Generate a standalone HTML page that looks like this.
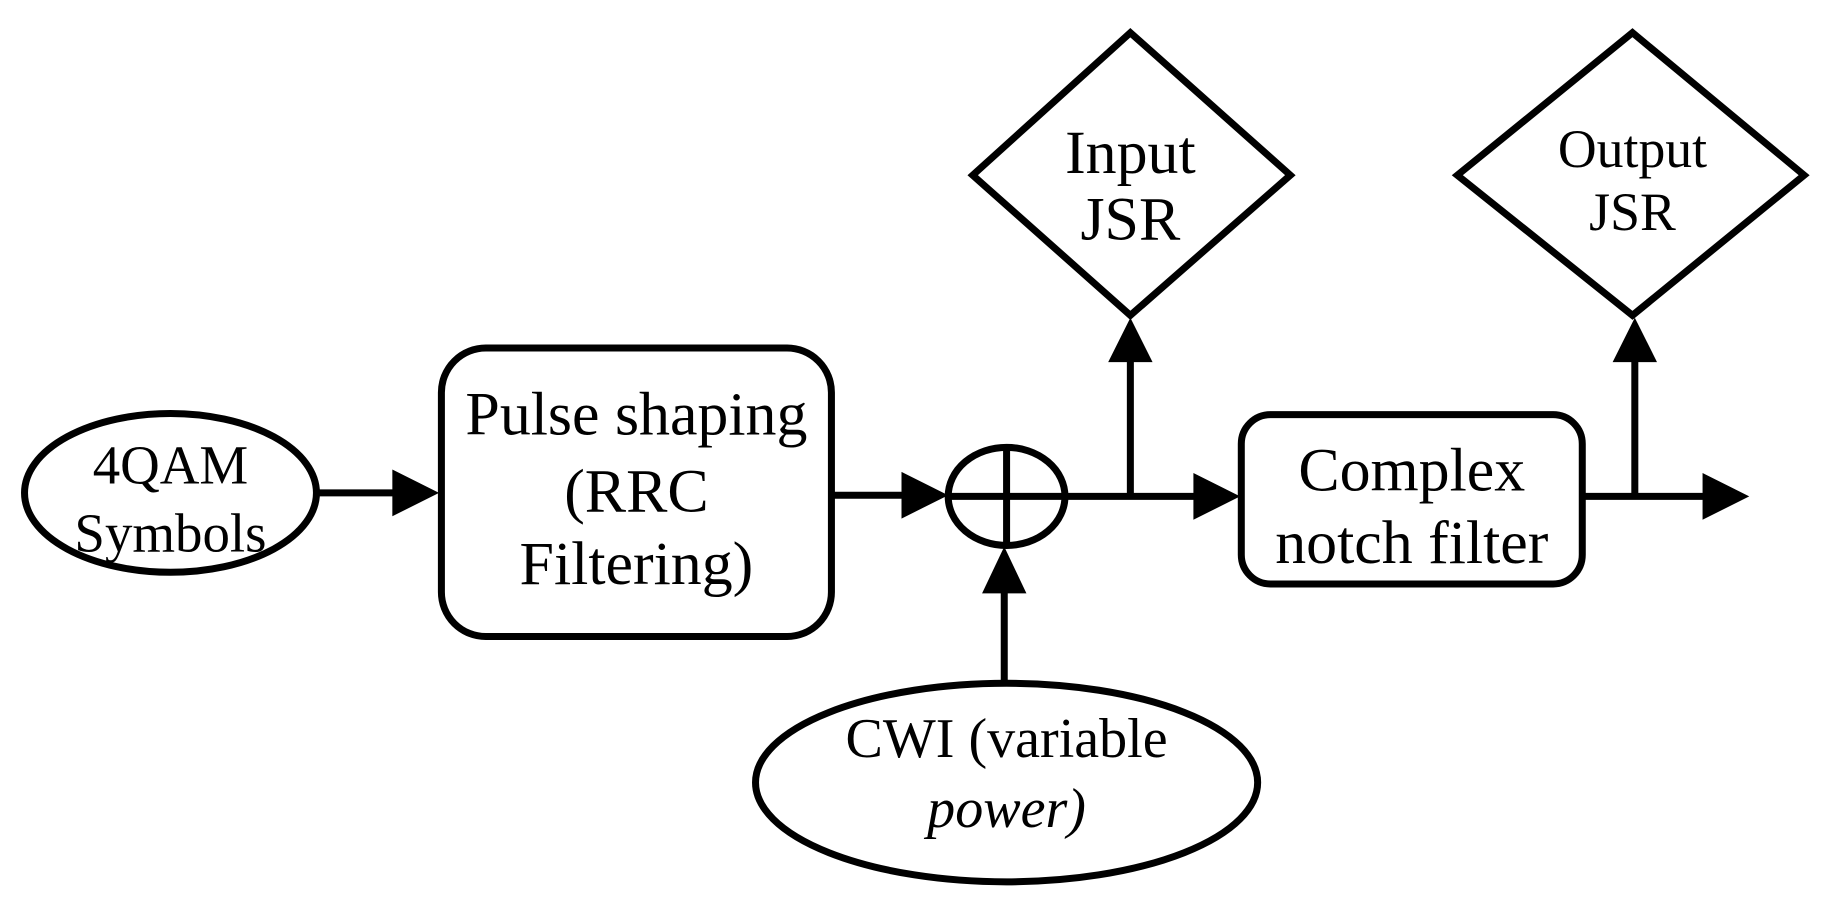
<!DOCTYPE html>
<html><head><style>html,body{margin:0;padding:0;background:#fff}svg{display:block}</style></head>
<body>
<svg width="1831" height="897" viewBox="0 0 1568 768" preserveAspectRatio="none" xmlns="http://www.w3.org/2000/svg" font-family="Liberation Serif, serif" fill="none" stroke="#000">
<g stroke-width="6">
<ellipse cx="146" cy="422" rx="125" ry="68"/>
<rect x="378" y="298" width="334" height="247" rx="38"/>
<ellipse cx="862" cy="425" rx="50" ry="42"/>
<line x1="862" y1="383" x2="862" y2="467"/>
<line x1="812" y1="425" x2="912" y2="425"/>
<polygon points="968,28 1105,150 968,270 833,150"/>
<polygon points="1398,28 1545,150 1398,270 1248,150"/>
<rect x="1063" y="355" width="292" height="145" rx="25"/>
<ellipse cx="862" cy="670" rx="215" ry="85"/>
<line x1="271" y1="422" x2="340" y2="422"/>
<line x1="712" y1="424" x2="775" y2="424"/>
<line x1="912" y1="425" x2="1025" y2="425"/>
<line x1="968" y1="425" x2="968" y2="305"/>
<line x1="1355" y1="425" x2="1460" y2="425"/>
<line x1="1400" y1="425" x2="1400" y2="305"/>
<line x1="860" y1="585" x2="860" y2="505"/>
</g>
<g fill="#000" stroke="none">
<polygon points="336,402 376,422 336,442"/>
<polygon points="772,404 812,424 772,444"/>
<polygon points="1022,405 1062,425 1022,445"/>
<polygon points="1458,405 1498,425 1458,445"/>
<polygon points="949,310 968,272 987,310"/>
<polygon points="1381,310 1400,272 1419,310"/>
<polygon points="841,508 860,468 879,508"/>
</g>
<g fill="#000" stroke="none" text-anchor="middle">
<text x="146" y="414" font-size="47">4QAM</text>
<text x="146" y="472" font-size="47">Symbols</text>
<text x="545" y="372" font-size="53">Pulse shaping</text>
<text x="545" y="438" font-size="53">(RRC</text>
<text x="545" y="500" font-size="53">Filtering)</text>
<text x="968" y="148" font-size="53">Input</text>
<text x="968" y="205" font-size="53">JSR</text>
<text x="1398" y="143" font-size="46">Output</text>
<text x="1398" y="197" font-size="46">JSR</text>
<text x="1209" y="420" font-size="53">Complex</text>
<text x="1209" y="482" font-size="53">notch filter</text>
<text x="862" y="648" font-size="48">CWI (variable</text>
<text x="862" y="708" font-size="48" font-style="italic">power)</text>
</g>
</svg>
</body></html>
